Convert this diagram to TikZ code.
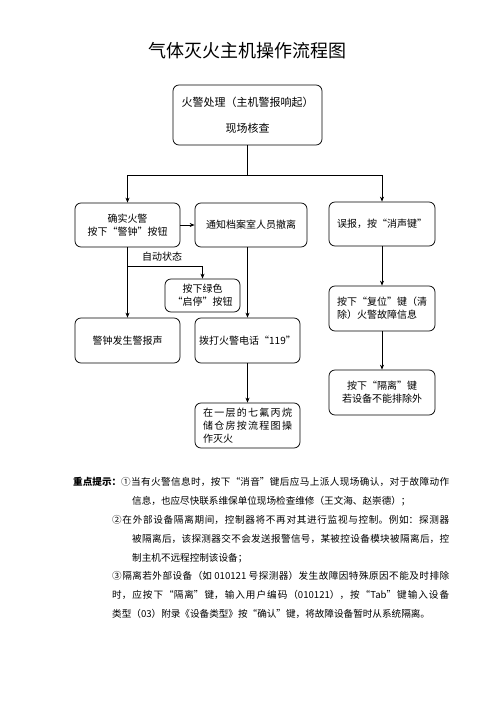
\documentclass[tikz,border=0pt]{standalone}
\usepackage{fontspec}
\newfontfamily\cjk{Noto Sans CJK SC}
\usetikzlibrary{arrows.meta}
\XeTeXlinebreaklocale "zh"
\XeTeXlinebreakskip=0pt plus 2pt minus 0.2pt

\begin{document}
\begin{tikzpicture}[x=1pt, y=-1pt, font=\cjk\fontsize{10}{13}\selectfont,
		>={Stealth[length=5pt,width=4pt]},
		box/.style={draw, line width=0.75pt, rounded corners=6pt, align=center, inner sep=0pt},
		jbox/.style={box, align=justify, text width=89pt, inner xsep=8pt, minimum height=45pt},
		link/.style={->, line width=0.75pt}]
		\useasboundingbox (0,0) rectangle (496,702);

		\node[font=\cjk\fontsize{18}{22}\selectfont] (title) at (247,51) {气体灭火主机操作流程图};

		\node[box, minimum width=149pt, minimum height=60pt, font=\cjk\fontsize{11}{13}\selectfont] (check) at (247.5,115) {火警处理（主机警报响起）\\[13pt]现场核查};
		\node[box, minimum width=105pt, minimum height=44pt] (confirm) at (127.5,225) {确实火警\\按下“警钟”按钮};
		\node[box, minimum width=112pt, minimum height=44pt] (notify) at (251,225) {通知档案室人员撤离};
		\node[box, minimum width=106pt, minimum height=44pt] (falsealarm) at (382,224) {误报，按“消声键”};
		\node[box, minimum width=75pt, minimum height=33pt] (start) at (202.5,295.5) {按下绿色\\“启停”按钮};
		\node[box, minimum width=105pt, minimum height=45pt] (bell) at (127.5,340.5) {警钟发生警报声};
		\node[box, minimum width=105pt, minimum height=45pt] (call) at (247.5,340.5) {拨打火警电话“119”};
		\node[jbox] (extinguish) at (247.5,425.5) {在一层的七氟丙烷\linebreak{}储仓房按流程图操\linebreak{}作灭火};
		\node[jbox, text width=90pt, inner xsep=8pt] (reset) at (382,308.5) {按下“复位”键（清\linebreak{}除）火警故障信息\parfillskip=0pt\relax};
		\node[box, minimum width=106pt, minimum height=45pt] (isolate) at (382,392.5) {按下“隔离”键\\若设备不能排除外};

		\coordinate (fork) at (247.5,175);
		\coordinate (auto) at (127.5,266);
		\node (autolabel) at (162,257) {自动状态};

		\draw[line width=0.75pt] (check) -- (fork);
		\draw[link] (fork) -| (confirm.north);
		\draw[link] (fork) -| (falsealarm.north);
		\draw[link] (confirm) -- (notify);
		\draw[link] (confirm) -- (bell);
		\draw[link] (auto) -| (start.north);
		\draw[link] (call.north |- notify.south) -- (call.north);
		\draw[link] (call) -- (extinguish);
		\draw[link] (falsealarm) -- (reset);
		\draw[link] (reset) -- (isolate);

		\node[anchor=north west, inner sep=0pt, text width=337pt, align=justify, font=\cjk\fontsize{9.6}{18.9}\selectfont] (notes) at (112,477) {\parindent=0pt\hangindent=20pt\hangafter=1\hskip9pt\llap{\bfseries 重点提示：}①当有火警信息时，按下“消音”键后应马上派人现场确认，对于故障动作\linebreak{}信息，也应尽快联系维保单位现场检查维修（王文海、赵崇德）；\par
			\hangindent=20pt\hangafter=1 ②在外部设备隔离期间，控制器将不再对其进行监视与控制。例如：探测器\linebreak{}被隔离后，该探测器交不会发送报警信号，某被控设备模块被隔离后，控\linebreak{}制主机不远程控制该设备；\par
			\hangindent=20pt\hangafter=1 ③隔离若外部设备（如 010121 号探测器）发生故障因特殊原因不能及时排除\linebreak{}时，应按下“隔离”键，输入用户编码（010121），按“Tab”键输入设备\linebreak{}类型（03）附录《设备类型》按“确认”键，将故障设备暂时从系统隔离。};
	\end{tikzpicture}
\end{document}
